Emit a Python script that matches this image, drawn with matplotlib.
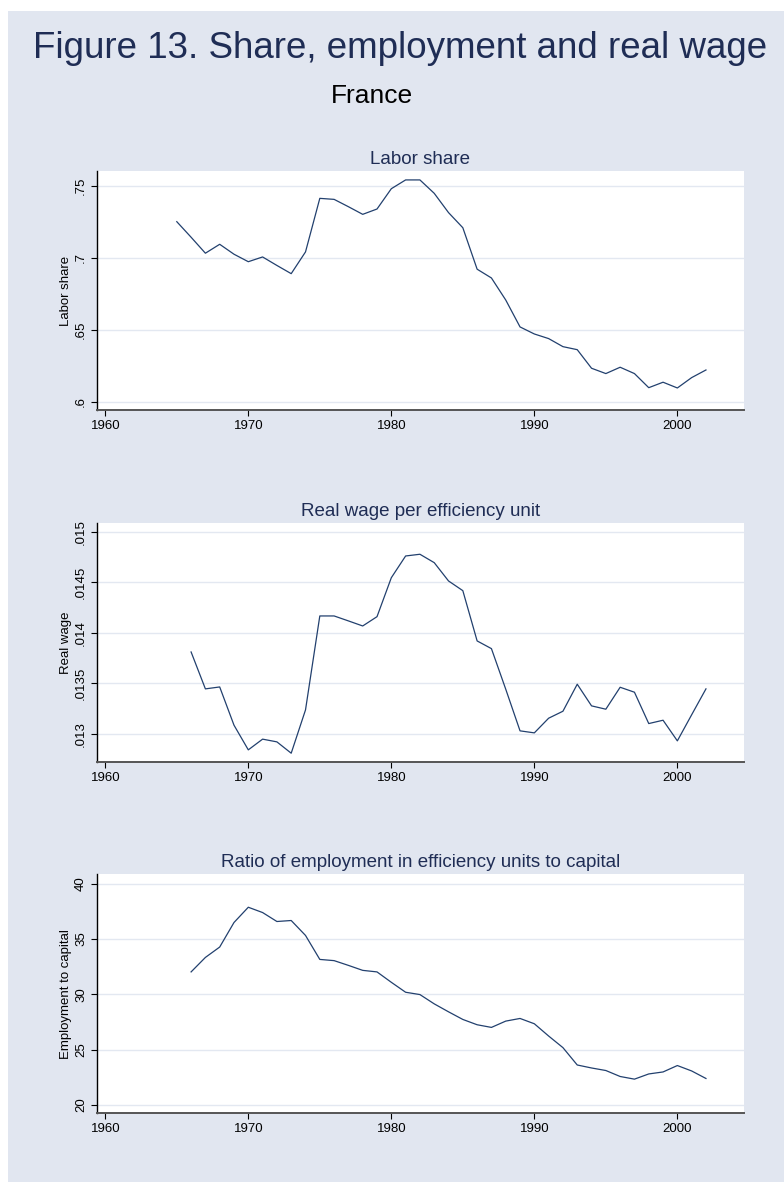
import numpy as np
import matplotlib
matplotlib.use("Agg")
import matplotlib.pyplot as plt
from matplotlib.patches import Rectangle

plt.rcParams['font.family'] = ['Liberation Sans', 'DejaVu Sans']

# data
years_share = list(range(1965, 2003))
labor_share = [0.7252, 0.7144, 0.7033, 0.7095, 0.7026, 0.6974, 0.7007, 0.6948,
               0.6891, 0.7042, 0.7414, 0.7407, 0.7356, 0.7303, 0.7340, 0.7481,
               0.7542, 0.7542, 0.7449, 0.7315, 0.7210, 0.6922, 0.6861, 0.6708,
               0.6521, 0.6472, 0.6440, 0.6384, 0.6363, 0.6234, 0.6197, 0.6241,
               0.6197, 0.6099, 0.6137, 0.6097, 0.6169, 0.6222]

years_wage = list(range(1966, 2003))
real_wage = [0.013811, 0.013446, 0.013465, 0.013087, 0.012843, 0.012949, 0.012922,
             0.012810, 0.013238, 0.014167, 0.014167, 0.014118, 0.014068, 0.014160,
             0.014545, 0.014760, 0.014777, 0.014694, 0.014513, 0.014417, 0.013920,
             0.013844, 0.013443, 0.013031, 0.013011, 0.013156, 0.013225, 0.013492,
             0.013278, 0.013245, 0.013462, 0.013413, 0.013103, 0.013136, 0.012932,
             0.013190, 0.013446]

years_emp = list(range(1966, 2003))
emp_capital = [32.02, 33.33, 34.27, 36.49, 37.87, 37.39, 36.58, 36.67, 35.32, 33.15,
               33.04, 32.61, 32.16, 32.02, 31.08, 30.18, 29.97, 29.13, 28.41, 27.72,
               27.24, 27.00, 27.57, 27.81, 27.33, 26.22, 25.17, 23.60, 23.33, 23.10,
               22.56, 22.32, 22.79, 22.97, 23.55, 23.06, 22.38]

xticks = [1960, 1970, 1980, 1990, 2000]

share_ticks = [0.6, 0.65, 0.7, 0.75]
share_labels = ['.6', '.65', '.7', '.75']
wage_ticks = [0.013, 0.0135, 0.014, 0.0145, 0.015]
wage_labels = ['.013', '.0135', '.014', '.0145', '.015']
emp_ticks = [20, 25, 30, 35, 40]
emp_labels = ['20', '25', '30', '35', '40']

W, H = 784, 1182
bg = '#e1e6f0'
navy = '#22406e'
title_col = '#1f2d55'
grid_col = '#e3e8f1'

fig = plt.figure(figsize=(W / 100, H / 100), dpi=100)
fig.patch.set_facecolor('white')
fig.patches.append(Rectangle((8 / W, 0), 1 - 8 / W, 1 - 11 / H,
                             transform=fig.transFigure, facecolor=bg,
                             edgecolor='none', zorder=-10))

fig.text(400 / W, 1 - 58 / H, 'Figure 13. Share, employment and real wage',
         ha='center', va='baseline', fontsize=26.5, color=title_col)
fig.text(372 / W, 1 - 103 / H, 'France', ha='center', va='baseline',
         fontsize=19, color='black')

panels = [
    (years_share, labor_share, 'Labor share', 'Labor share',
     share_ticks, share_labels, (0.5944, 0.7604), (171, 410)),
    (years_wage, real_wage, 'Real wage per efficiency unit', 'Real wage',
     wage_ticks, wage_labels, (0.012723, 0.015089), (522.7, 762)),
    (years_emp, emp_capital, 'Ratio of employment in efficiency units to capital',
     'Employment to capital', emp_ticks, emp_labels, (19.23, 40.85), (874.3, 1113.3)),
]

left, right = 96.7, 744
for x, y, ttl, ylab, yt, ytl, ylim, (top, bot) in panels:
    ax = fig.add_axes([left / W, 1 - bot / H, (right - left) / W, (bot - top) / H])
    ax.set_facecolor('white')
    ax.plot(x, y, color=navy, lw=0.9)
    ax.set_xlim(1959.4, 2004.66)
    ax.set_ylim(*ylim)
    ax.set_xticks(xticks)
    ax.set_xticklabels([str(t) for t in xticks])
    ax.set_yticks(yt)
    ax.set_yticklabels(ytl, rotation=90, va='center')
    ax.yaxis.grid(True, color=grid_col, lw=1.0)
    ax.set_axisbelow(True)
    for s in ['top', 'right']:
        ax.spines[s].set_visible(False)
    ax.spines['left'].set_color('black')
    ax.spines['left'].set_linewidth(1.0)
    ax.spines['bottom'].set_color('#555555')
    ax.spines['bottom'].set_linewidth(1.4)
    ax.tick_params(axis='both', direction='out', length=4, width=0.8,
                   labelsize=9.5, colors='black', pad=3)
    ax.set_ylabel(ylab, fontsize=9.5, labelpad=2)
    ax.set_title(ttl, fontsize=13.5, color=title_col, pad=5)

fig.savefig('out.png', dpi=100, facecolor='white')
